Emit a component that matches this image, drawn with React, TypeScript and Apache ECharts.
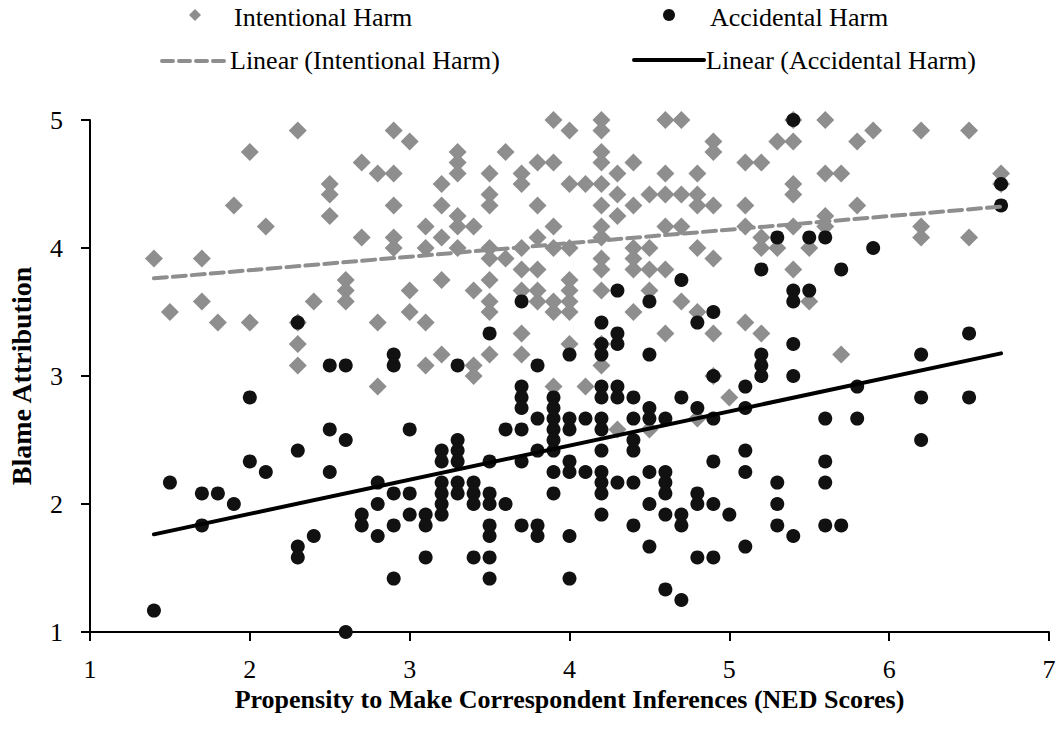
import React, { useEffect, useRef } from "react";
import * as echarts from "echarts";

// Intentional harm: [NED score, blame]
const intentionalHarm: number[][] = [
  [1.4, 3.917], [1.5, 3.5], [1.7, 3.917], [1.7, 3.583], [1.8, 3.417], [1.9, 4.333],
  [2.0, 4.75], [2.0, 3.417], [2.1, 4.167],
  [2.3, 4.917], [2.3, 3.417], [2.3, 3.25], [2.3, 3.083], [2.4, 3.583],
  [2.5, 4.5], [2.5, 4.417], [2.5, 4.25],
  [2.6, 3.75], [2.6, 3.667], [2.6, 3.583],
  [2.7, 4.667], [2.7, 4.083],
  [2.8, 4.583], [2.8, 3.417], [2.8, 2.917],
  [2.9, 4.917], [2.9, 4.583], [2.9, 4.333], [2.9, 4.083], [2.9, 4.0],
  [3.0, 4.833], [3.0, 3.667], [3.0, 3.5],
  [3.1, 4.167], [3.1, 4.0], [3.1, 3.417], [3.1, 3.083],
  [3.2, 4.5], [3.2, 4.333], [3.2, 4.083], [3.2, 3.75], [3.2, 3.167],
  [3.3, 4.75], [3.3, 4.667], [3.3, 4.583], [3.3, 4.25], [3.3, 4.167], [3.3, 4.0],
  [3.4, 4.167], [3.4, 3.667], [3.4, 3.083], [3.4, 3.0],
  [3.5, 4.583], [3.5, 4.417], [3.5, 4.333], [3.5, 4.0], [3.5, 3.917], [3.5, 3.75], [3.5, 3.583], [3.5, 3.5], [3.5, 3.167],
  [3.6, 4.75], [3.6, 3.917],
  [3.7, 4.583], [3.7, 4.5], [3.7, 4.0], [3.7, 3.833], [3.7, 3.667], [3.7, 3.333], [3.7, 3.167],
  [3.8, 4.667], [3.8, 4.333], [3.8, 4.083], [3.8, 3.833], [3.8, 3.667], [3.8, 3.583],
  [3.9, 5.0], [3.9, 4.667], [3.9, 4.167], [3.9, 4.0], [3.9, 3.583], [3.9, 3.5], [3.9, 2.917],
  [4.0, 4.917], [4.0, 4.5], [4.0, 4.0], [4.0, 3.75], [4.0, 3.667], [4.0, 3.583], [4.0, 3.5], [4.0, 3.25],
  [4.1, 4.5], [4.1, 2.917],
  [4.2, 5.0], [4.2, 4.917], [4.2, 4.75], [4.2, 4.667], [4.2, 4.5], [4.2, 4.333], [4.2, 4.167], [4.2, 4.083],
  [4.2, 3.917], [4.2, 3.833], [4.2, 3.667], [4.2, 3.25], [4.2, 3.083],
  [4.3, 4.583], [4.3, 4.417], [4.3, 4.25], [4.3, 2.583],
  [4.4, 4.667], [4.4, 4.333], [4.4, 4.0], [4.4, 3.917], [4.4, 3.833], [4.4, 3.5],
  [4.5, 4.417], [4.5, 4.0], [4.5, 3.833], [4.5, 3.667], [4.5, 2.583],
  [4.6, 5.0], [4.6, 4.583], [4.6, 4.417], [4.6, 4.167], [4.6, 3.833], [4.6, 3.333],
  [4.7, 5.0], [4.7, 4.417], [4.7, 4.167], [4.7, 3.583],
  [4.8, 4.583], [4.8, 4.417], [4.8, 4.333], [4.8, 4.0], [4.8, 3.5], [4.8, 2.667],
  [4.9, 4.833], [4.9, 4.75], [4.9, 4.333], [4.9, 3.917], [4.9, 3.333], [4.9, 3.0],
  [5.0, 2.833],
  [5.1, 4.667], [5.1, 4.333], [5.1, 4.167], [5.1, 3.417],
  [5.2, 4.667], [5.2, 4.083], [5.2, 4.0], [5.2, 3.333],
  [5.3, 4.833], [5.3, 4.0],
  [5.4, 5.0], [5.4, 4.833], [5.4, 4.5], [5.4, 4.417], [5.4, 4.167], [5.4, 3.833],
  [5.5, 4.0], [5.5, 3.583],
  [5.6, 5.0], [5.6, 4.583], [5.6, 4.25], [5.6, 4.167],
  [5.7, 4.583], [5.7, 3.167],
  [5.8, 4.833], [5.8, 4.333],
  [5.9, 4.917],
  [6.2, 4.917], [6.2, 4.167], [6.2, 4.083],
  [6.5, 4.917], [6.5, 4.083],
  [6.7, 4.583], [6.7, 4.5],
];

// Accidental harm: [NED score, blame]
const accidentalHarm: number[][] = [
  [1.4, 1.167], [1.5, 2.167], [1.7, 2.083], [1.7, 1.833], [1.8, 2.083], [1.9, 2.0],
  [2.0, 2.833], [2.0, 2.333], [2.1, 2.25],
  [2.3, 3.417], [2.3, 2.417], [2.3, 1.667], [2.3, 1.583], [2.4, 1.75],
  [2.5, 3.083], [2.5, 2.583], [2.5, 2.25],
  [2.6, 3.083], [2.6, 2.5], [2.6, 1.0],
  [2.7, 1.917], [2.7, 1.833],
  [2.8, 2.167], [2.8, 2.0], [2.8, 1.75],
  [2.9, 3.167], [2.9, 3.083], [2.9, 2.083], [2.9, 1.833], [2.9, 1.417],
  [3.0, 2.583], [3.0, 2.083], [3.0, 1.917],
  [3.1, 1.917], [3.1, 1.833], [3.1, 1.583],
  [3.2, 2.417], [3.2, 2.333], [3.2, 2.167], [3.2, 2.083], [3.2, 2.0], [3.2, 1.917],
  [3.3, 3.083], [3.3, 2.5], [3.3, 2.417], [3.3, 2.333], [3.3, 2.167], [3.3, 2.083],
  [3.4, 2.167], [3.4, 2.083], [3.4, 2.0], [3.4, 1.583],
  [3.5, 3.333], [3.5, 2.333], [3.5, 2.083], [3.5, 2.0], [3.5, 1.833], [3.5, 1.75], [3.5, 1.583], [3.5, 1.417],
  [3.6, 2.583], [3.6, 2.0],
  [3.7, 3.583], [3.7, 2.917], [3.7, 2.833], [3.7, 2.75], [3.7, 2.583], [3.7, 2.333], [3.7, 1.833],
  [3.8, 3.083], [3.8, 2.667], [3.8, 2.417], [3.8, 1.833], [3.8, 1.75],
  [3.9, 2.833], [3.9, 2.75], [3.9, 2.667], [3.9, 2.583], [3.9, 2.5], [3.9, 2.417], [3.9, 2.25], [3.9, 2.083],
  [4.0, 3.167], [4.0, 2.667], [4.0, 2.583], [4.0, 2.333], [4.0, 2.25], [4.0, 1.75], [4.0, 1.417],
  [4.1, 2.667], [4.1, 2.25],
  [4.2, 3.417], [4.2, 3.25], [4.2, 3.167], [4.2, 2.917], [4.2, 2.833], [4.2, 2.667], [4.2, 2.583],
  [4.2, 2.417], [4.2, 2.25], [4.2, 2.167], [4.2, 2.083], [4.2, 1.917],
  [4.3, 3.667], [4.3, 3.333], [4.3, 3.25], [4.3, 2.917], [4.3, 2.833], [4.3, 2.167],
  [4.4, 2.833], [4.4, 2.667], [4.4, 2.5], [4.4, 2.417], [4.4, 2.167], [4.4, 1.833],
  [4.5, 3.583], [4.5, 3.167], [4.5, 2.75], [4.5, 2.667], [4.5, 2.25], [4.5, 2.0], [4.5, 1.667],
  [4.6, 2.667], [4.6, 2.25], [4.6, 2.167], [4.6, 2.083], [4.6, 1.917], [4.6, 1.333],
  [4.7, 3.75], [4.7, 2.833], [4.7, 1.917], [4.7, 1.833], [4.7, 1.25],
  [4.8, 3.417], [4.8, 2.75], [4.8, 2.083], [4.8, 2.0], [4.8, 1.583],
  [4.9, 3.5], [4.9, 3.0], [4.9, 2.667], [4.9, 2.333], [4.9, 2.0], [4.9, 1.583],
  [5.0, 1.917],
  [5.1, 2.917], [5.1, 2.75], [5.1, 2.417], [5.1, 2.25], [5.1, 1.667],
  [5.2, 3.833], [5.2, 3.167], [5.2, 3.083], [5.2, 3.0],
  [5.3, 4.083], [5.3, 2.167], [5.3, 2.0], [5.3, 1.833],
  [5.4, 5.0], [5.4, 3.667], [5.4, 3.583], [5.4, 3.25], [5.4, 3.0], [5.4, 1.75],
  [5.5, 4.083], [5.5, 3.667],
  [5.6, 4.083], [5.6, 2.667], [5.6, 2.333], [5.6, 2.167], [5.6, 1.833],
  [5.7, 3.833], [5.7, 1.833],
  [5.8, 2.917], [5.8, 2.667],
  [5.9, 4.0],
  [6.2, 3.167], [6.2, 2.833], [6.2, 2.5],
  [6.5, 3.333], [6.5, 2.833],
  [6.7, 4.5], [6.7, 4.333],
];

// Linear trend lines (endpoints)
const linearIntentional: number[][] = [[1.4, 3.763], [6.7, 4.323]];
const linearAccidental: number[][] = [[1.4, 1.763], [6.7, 3.177]];

const xTicks = [1, 2, 3, 4, 5, 6, 7];
const yTicks = [1, 2, 3, 4, 5];

const FONT = '"Liberation Serif", "Times New Roman", serif';
const GRAY = "#8e8e8e";
const BLACK = "#111111";

export default function App() {
  const ref = useRef<HTMLDivElement>(null);

  useEffect(() => {
    if (!ref.current) return;
    const chart = echarts.init(ref.current, undefined, { renderer: "svg" });
    chart.setOption({
      animation: false,
      backgroundColor: "#ffffff",
      textStyle: { fontFamily: FONT },
      grid: {
        left: 90,
        top: 120,
        width: 959,
        height: 512,
        containLabel: false,
        outerBoundsMode: "none",
      },
      xAxis: {
        type: "value",
        min: xTicks[0],
        max: xTicks[xTicks.length - 1],
        interval: 1,
        name: "Propensity to Make Correspondent Inferences (NED Scores)",
        nameLocation: "middle",
        nameGap: 50,
        nameTextStyle: { fontFamily: FONT, fontWeight: "bold", fontSize: 26, color: "#000" },
        axisLine: { onZero: false, lineStyle: { color: "#000", width: 2 } },
        axisTick: { show: true, inside: false, length: 9, lineStyle: { color: "#000", width: 2 } },
        axisLabel: { margin: 24, fontFamily: FONT, fontSize: 26, color: "#000" },
        splitLine: { show: false },
      },
      yAxis: {
        type: "value",
        min: yTicks[0],
        max: yTicks[yTicks.length - 1],
        interval: 1,
        name: "Blame Attribution",
        nameLocation: "middle",
        nameGap: 55,
        nameRotate: 90,
        nameTextStyle: { fontFamily: FONT, fontWeight: "bold", fontSize: 28, color: "#000" },
        axisLine: { onZero: false, lineStyle: { color: "#000", width: 2 } },
        axisTick: { show: true, inside: false, length: 9, lineStyle: { color: "#000", width: 2 } },
        axisLabel: { margin: 27, fontFamily: FONT, fontSize: 26, color: "#000" },
        splitLine: { show: false },
      },
      series: [
        {
          name: "Intentional Harm",
          type: "scatter",
          data: intentionalHarm,
          symbol: "diamond",
          symbolSize: 18,
          itemStyle: { color: GRAY, opacity: 1 },
          z: 2,
        },
        {
          name: "Accidental Harm",
          type: "scatter",
          data: accidentalHarm,
          symbol: "circle",
          symbolSize: 14,
          itemStyle: { color: BLACK, opacity: 1 },
          z: 3,
        },
        {
          name: "Linear (Intentional Harm)",
          type: "line",
          data: linearIntentional,
          showSymbol: false,
          symbol: "none",
          lineStyle: { color: GRAY, width: 4, type: [13, 6], cap: "round" },
          z: 4,
        },
        {
          name: "Linear (Accidental Harm)",
          type: "line",
          data: linearAccidental,
          showSymbol: false,
          symbol: "none",
          lineStyle: { color: "#000", width: 4, cap: "round" },
          z: 5,
        },
      ],
      graphic: [
        {
          type: "polygon",
          shape: { points: [[195, 9], [201, 15], [195, 21], [189, 15]] },
          style: { fill: GRAY },
        },
        {
          type: "text",
          x: 234,
          y: 17,
          style: { text: "Intentional Harm", font: `26px ${FONT}`, fill: "#000", verticalAlign: "middle" },
        },
        {
          type: "circle",
          shape: { cx: 669, cy: 15, r: 6 },
          style: { fill: BLACK },
        },
        {
          type: "text",
          x: 710,
          y: 17,
          style: { text: "Accidental Harm", font: `26px ${FONT}`, fill: "#000", verticalAlign: "middle" },
        },
        {
          type: "line",
          shape: { x1: 162, y1: 61, x2: 228, y2: 61 },
          style: { stroke: GRAY, lineWidth: 4, lineDash: [11, 6], lineCap: "round" },
        },
        {
          type: "text",
          x: 230,
          y: 60,
          style: { text: "Linear (Intentional Harm)", font: `26px ${FONT}`, fill: "#000", verticalAlign: "middle" },
        },
        {
          type: "line",
          shape: { x1: 634, y1: 60, x2: 704, y2: 60 },
          style: { stroke: "#000", lineWidth: 4, lineCap: "round" },
        },
        {
          type: "text",
          x: 706,
          y: 60,
          style: { text: "Linear (Accidental Harm)", font: `26px ${FONT}`, fill: "#000", verticalAlign: "middle" },
        },
      ],
    });
    return () => chart.dispose();
  }, []);

  return (
    <div
      ref={ref}
      style={{ position: "absolute", left: 0, top: 0, width: 1058, height: 747, background: "#fff" }}
    />
  );
}
